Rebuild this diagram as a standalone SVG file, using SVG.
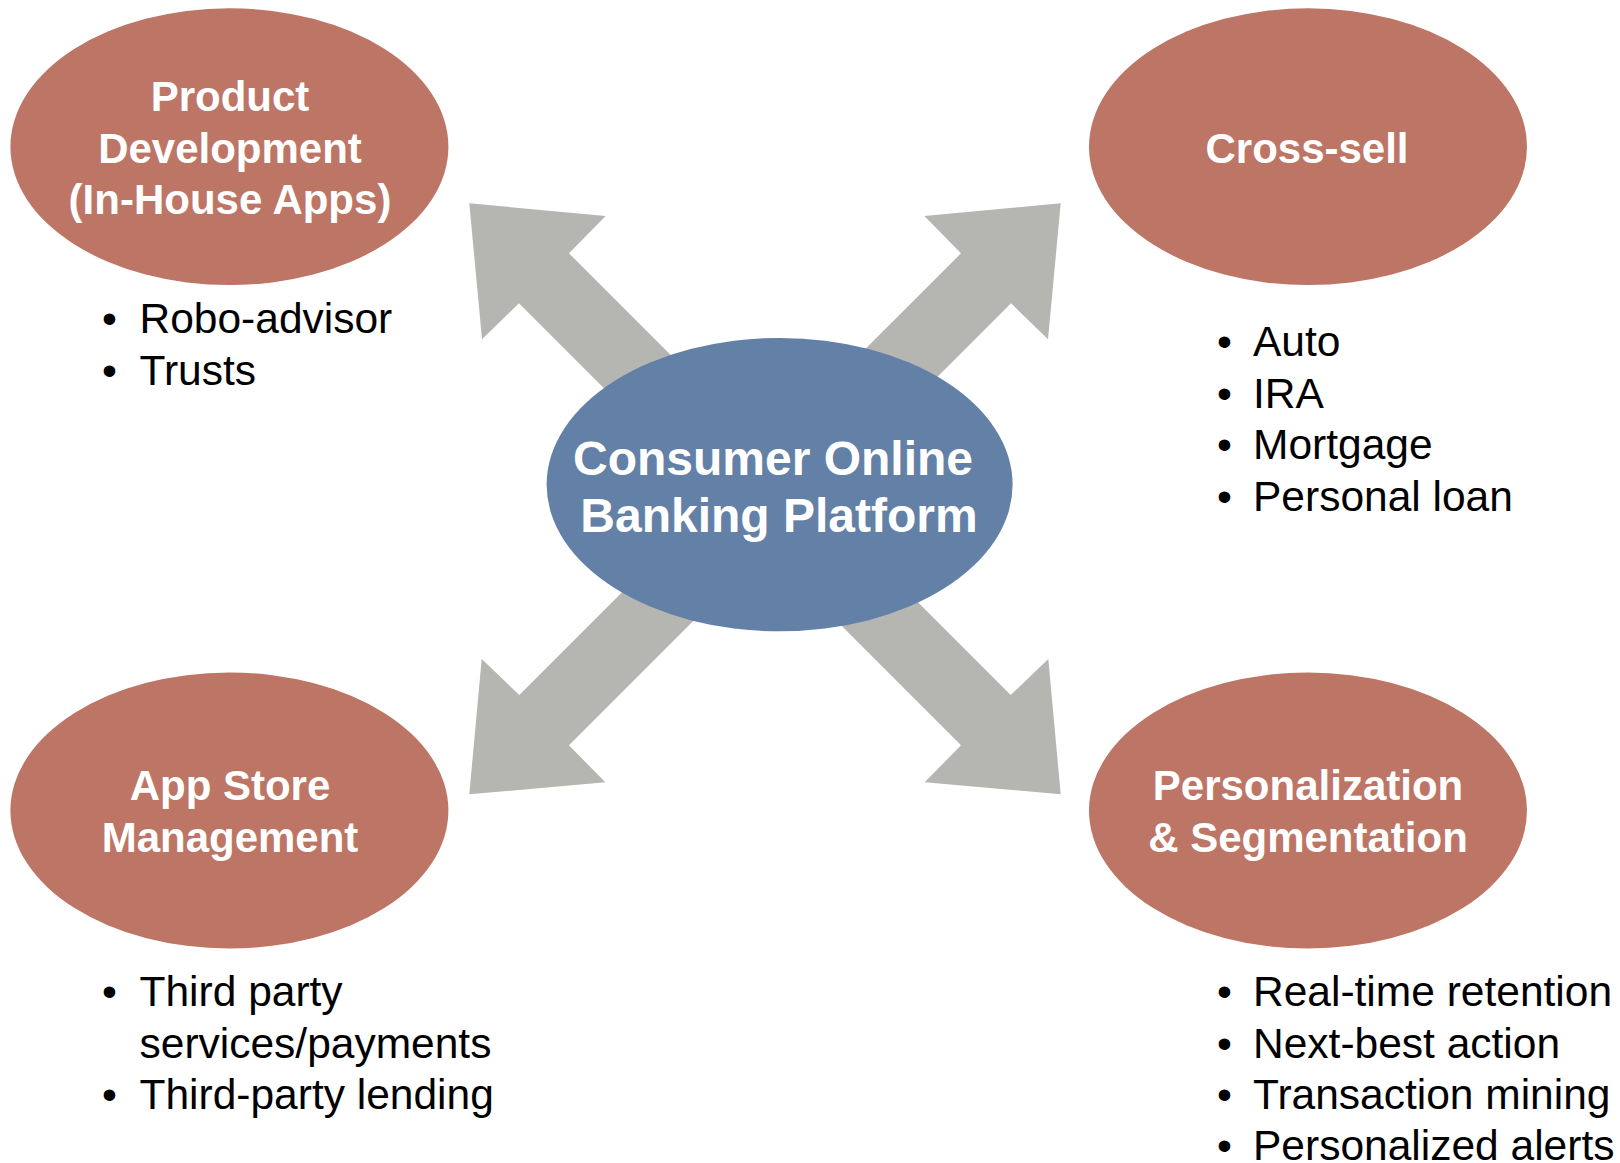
<svg xmlns="http://www.w3.org/2000/svg" width="1620" height="1163" viewBox="0 0 1620 1163">
<style>
.bg{fill:#ffffff}
.outer{fill:#BD7566}
.center{fill:#6380A6}
.arrow{fill:#B5B6B1}
.title{font-family:"Liberation Sans",Arial,sans-serif;font-weight:bold;font-size:42px;fill:#ffffff;text-anchor:middle}
.ctitle{font-family:"Liberation Sans",Arial,sans-serif;font-weight:bold;font-size:48px;fill:#ffffff;text-anchor:middle}
.item{font-family:"Liberation Sans",Arial,sans-serif;font-size:42.5px;fill:#000000}
</style>
<rect class="bg" x="0" y="0" width="1620" height="1163"/>
<g id="connectors">
<polygon class="arrow" points="469.3,203.3 605.7,216 569,253.3 1010.7,695 1048.3,659 1060.7,794.3 924.7,782.3 961,745.3 519,303.3 482,339.3"/>
<polygon class="arrow" points="1060.7,203.3 924.3,216 961,253.3 519.3,695 481.7,659 469.3,794.3 605.3,782.3 569,745.3 1011,303.3 1048,339.3"/>
</g>
<g id="product-development">
<ellipse class="outer" cx="229.4" cy="146.7" rx="219" ry="138.4"/>
<text class="title" x="230" y="111">Product</text>
<text class="title" x="230" y="162.5">Development</text>
<text class="title" x="230" y="214">(In-House Apps)</text>
<text class="item" x="102" y="333">•</text><text class="item" x="139.5" y="333">Robo-advisor</text>
<text class="item" x="102" y="384.5">•</text><text class="item" x="139.5" y="384.5">Trusts</text>
</g>
<g id="cross-sell">
<ellipse class="outer" cx="1308" cy="146.7" rx="219" ry="138.4"/>
<text class="title" x="1307" y="162.5">Cross-sell</text>
<text class="item" x="1217" y="356">•</text><text class="item" x="1253" y="356">Auto</text>
<text class="item" x="1217" y="407.5">•</text><text class="item" x="1253" y="407.5">IRA</text>
<text class="item" x="1217" y="459">•</text><text class="item" x="1253" y="459">Mortgage</text>
<text class="item" x="1217" y="510.5">•</text><text class="item" x="1253" y="510.5">Personal loan</text>
</g>
<g id="app-store-management">
<ellipse class="outer" cx="229.4" cy="810.5" rx="219" ry="138"/>
<text class="title" x="230" y="800">App Store</text>
<text class="title" x="230" y="852">Management</text>
<text class="item" x="102" y="1006">•</text><text class="item" x="139.5" y="1006">Third party</text>
<text class="item" x="139.5" y="1057.5">services/payments</text>
<text class="item" x="102" y="1109">•</text><text class="item" x="139.5" y="1109">Third-party lending</text>
</g>
<g id="personalization-segmentation">
<ellipse class="outer" cx="1308" cy="810.5" rx="219" ry="138"/>
<text class="title" x="1308" y="800">Personalization</text>
<text class="title" x="1308" y="852">&amp; Segmentation</text>
<text class="item" x="1217" y="1006">•</text><text class="item" x="1253" y="1006">Real-time retention</text>
<text class="item" x="1217" y="1057.5">•</text><text class="item" x="1253" y="1057.5">Next-best action</text>
<text class="item" x="1217" y="1109">•</text><text class="item" x="1253" y="1109">Transaction mining</text>
<text class="item" x="1217" y="1160">•</text><text class="item" x="1253" y="1160">Personalized alerts</text>
</g>
<g id="consumer-online-banking-platform">
<ellipse class="center" cx="779.6" cy="484.6" rx="233" ry="146.7"/>
<text class="ctitle" x="773" y="474.7">Consumer Online</text>
<text class="ctitle" x="779" y="531.5">Banking Platform</text>
</g>
</svg>
